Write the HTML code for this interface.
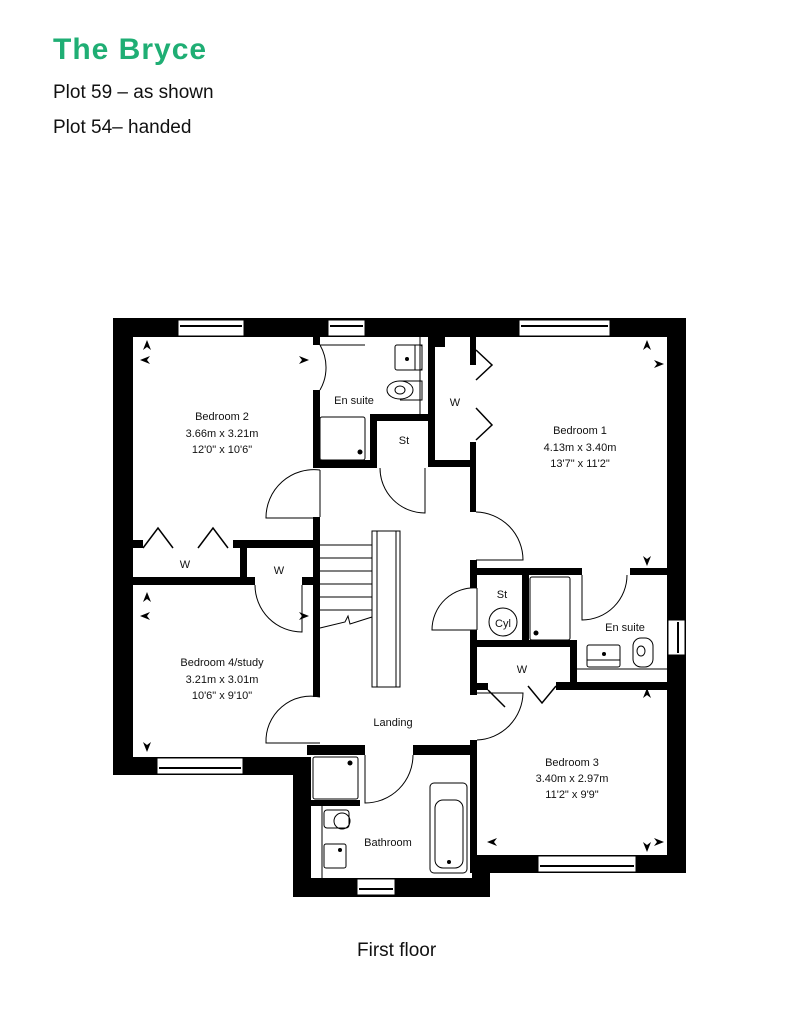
<!DOCTYPE html>
<html><head><meta charset="utf-8"><style>
html,body{margin:0;padding:0;background:#fff;}
body{width:800px;height:1036px;position:relative;overflow:hidden;font-family:"Liberation Sans",sans-serif;}
.t{position:absolute;left:53px;white-space:nowrap;color:#111;}
</style></head><body>
<div class="t" style="top:33px;font-size:30px;font-weight:bold;color:#1fae74;letter-spacing:1px;">The Bryce</div>
<div class="t" style="top:82px;font-size:19px;">Plot 59 – as shown</div>
<div class="t" style="top:117px;font-size:19px;">Plot 54– handed</div>
<div class="t" style="top:940px;left:357px;font-size:19px;">First floor</div>
<svg width="800" height="1036" style="position:absolute;left:0;top:0" xmlns="http://www.w3.org/2000/svg">
<g fill="#000">
<rect x="113" y="318" width="573" height="19"/>
<rect x="113" y="318" width="20" height="457"/>
<rect x="667" y="318" width="19" height="555"/>
<rect x="113" y="757" width="198" height="18"/>
<rect x="293" y="757" width="18" height="140"/>
<rect x="293" y="878" width="197" height="19"/>
<rect x="472" y="855" width="214" height="18"/>
<rect x="470" y="745" width="7" height="128"/>
<rect x="472" y="855" width="18" height="42"/>
<rect x="313" y="337" width="7" height="8"/>
<rect x="313" y="390" width="7" height="78"/>
<rect x="313" y="460" width="60" height="8"/>
<rect x="370" y="414" width="7" height="54"/>
<rect x="370" y="414" width="62" height="7"/>
<rect x="428" y="337" width="7" height="130"/>
<rect x="430" y="337" width="15" height="10"/>
<rect x="428" y="460" width="48" height="7"/>
<rect x="470" y="337" width="6" height="28"/>
<rect x="470" y="442" width="6" height="70"/>
<rect x="313" y="517" width="7" height="180"/>
<rect x="133" y="540" width="10" height="8"/>
<rect x="233" y="540" width="87" height="8"/>
<rect x="240" y="540" width="7" height="45"/>
<rect x="133" y="577" width="114" height="8"/>
<rect x="247" y="577" width="8" height="8"/>
<rect x="302" y="577" width="11" height="8"/>
<rect x="470" y="560" width="7" height="28"/>
<rect x="470" y="630" width="7" height="65"/>
<rect x="470" y="568" width="112" height="7"/>
<rect x="630" y="568" width="37" height="7"/>
<rect x="522" y="575" width="7" height="70"/>
<rect x="470" y="640" width="107" height="7"/>
<rect x="570" y="642" width="7" height="48"/>
<rect x="477" y="683" width="11" height="7"/>
<rect x="556" y="682" width="111" height="8"/>
<rect x="470" y="740" width="7" height="125"/>
<rect x="307" y="745" width="58" height="10"/>
<rect x="413" y="745" width="64" height="10"/>
<rect x="311" y="800" width="49" height="6"/>
</g>
<g fill="#fff" stroke="#000" stroke-width="1">
<rect x="178" y="320" width="66" height="16"/>
<rect x="328" y="320" width="37" height="16"/>
<rect x="519" y="320" width="91" height="16"/>
<rect x="157" y="758" width="86" height="16"/>
<rect x="357" y="879" width="38" height="16"/>
<rect x="538" y="856" width="98" height="16"/>
<rect x="668" y="620" width="17" height="35"/>
</g>
<g stroke="#000" stroke-width="2">
<line x1="180" y1="326" x2="242" y2="326"/><line x1="330" y1="326" x2="363" y2="326"/>
<line x1="521" y1="326" x2="608" y2="326"/><line x1="159" y1="768" x2="241" y2="768"/>
<line x1="359" y1="889" x2="393" y2="889"/><line x1="540" y1="866" x2="634" y2="866"/>
<line x1="678" y1="622" x2="678" y2="653"/>
</g>
<g fill="none" stroke="#000" stroke-width="1">
<path d="M320 345 A45 45 0 0 1 320 390 M320 345 L365 345"/>
<path d="M320 470 L320 517 M320 470 A48 48 0 0 0 266 518 L320 518"/>
<path d="M380 468 A45 45 0 0 0 425 513 L425 468"/>
<path d="M476 512 A48 48 0 0 1 523 560 L476 560"/>
<path d="M477 588 L477 630 M477 588 A42 42 0 0 0 432 630 L477 630"/>
<path d="M582 575 L582 620 A45 45 0 0 0 627 575"/>
<path d="M255 585 A47 47 0 0 0 302 632 L302 585"/>
<path d="M320 697 A45 45 0 0 0 266 743 L320 743"/>
<path d="M413 755 A48 48 0 0 1 365 803 L365 755"/>
<path d="M477 740 A48 48 0 0 0 523 693 L477 693"/>
<path d="M476 350 L492 365 L476 380 M476 408 L492 425 L476 440" stroke-width="1.5"/>
<path d="M143 548 L158 528 L173 548 M198 548 L213 528 L228 548" stroke-width="1.5"/>
<path d="M488 690 L505 707 M528 686 L542 703 L556 686" stroke-width="1.5"/>
<rect x="372" y="531" width="28" height="156"/>
<line x1="377" y1="531" x2="377" y2="687"/><line x1="396" y1="531" x2="396" y2="687"/>
<path d="M320 545 H372 M320 558 H372 M320 571 H372 M320 584 H372 M320 597 H372 M320 610 H372"/>
<path d="M320 628 L345 622 L348 616 L350 624 L372 617"/>
<rect x="395" y="345" width="27" height="25" rx="2"/>
<rect x="415" y="345" width="7" height="25"/>
<ellipse cx="400" cy="390" rx="13" ry="9"/><ellipse cx="400" cy="390" rx="5" ry="4"/>
<path d="M400 381 H422 V400 H400"/>
<rect x="320" y="417" width="45" height="43" rx="2"/>
<rect x="530" y="577" width="40" height="63" rx="2"/>
<circle cx="503" cy="622" r="14"/>
<rect x="587" y="645" width="33" height="22" rx="2"/><line x1="587" y1="660" x2="620" y2="660"/>
<rect x="633" y="638" width="20" height="29" rx="8"/><ellipse cx="641" cy="651" rx="4" ry="5"/>
<line x1="577" y1="669" x2="667" y2="669"/>
<rect x="313" y="757" width="45" height="42" rx="2"/>
<rect x="324" y="810" width="25" height="18" rx="3"/><ellipse cx="342" cy="821" rx="8" ry="8"/>
<rect x="324" y="844" width="22" height="24" rx="2"/>
<line x1="322" y1="806" x2="322" y2="878"/>
<rect x="430" y="783" width="37" height="90" rx="4"/>
<rect x="435" y="800" width="28" height="68" rx="8"/>
<line x1="420" y1="337" x2="420" y2="414"/>
</g>
<g fill="#000">
<circle cx="407" cy="359" r="2"/><circle cx="449" cy="862" r="2"/><circle cx="340" cy="850" r="2"/><circle cx="604" cy="654" r="2"/>
<circle cx="360" cy="452" r="2.5"/><circle cx="536" cy="633" r="2.5"/><circle cx="350" cy="763" r="2.5"/>
<path d="M147 340 l-4 10 l4 -3 l4 3 z M140 360 l10 -4 l-3 4 l3 4 z M309 360 l-10 -4 l3 4 l-3 4 z"/>
<path d="M147 592 l-4 10 l4 -3 l4 3 z M140 616 l10 -4 l-3 4 l3 4 z M309 616 l-10 -4 l3 4 l-3 4 z M147 752 l-4 -10 l4 3 l4 -3 z"/>
<path d="M647 340 l-4 10 l4 -3 l4 3 z M664 364 l-10 -4 l3 4 l-3 4 z M647 566 l-4 -10 l4 3 l4 -3 z"/>
<path d="M647 688 l-4 10 l4 -3 l4 3 z M487 842 l10 -4 l-3 4 l3 4 z M647 852 l-4 -10 l4 3 l4 -3 z M664 842 l-10 -4 l3 4 l-3 4 z"/>
</g>
<g font-family="Liberation Sans, sans-serif" font-size="11" fill="#111" text-anchor="middle">
<text x="222" y="420">Bedroom 2</text><text x="222" y="437">3.66m x 3.21m</text><text x="222" y="453">12'0" x 10'6"</text>
<text x="354" y="404">En suite</text><text x="404" y="444">St</text><text x="455" y="406">W</text>
<text x="580" y="434">Bedroom 1</text><text x="580" y="451">4.13m x 3.40m</text><text x="580" y="467">13'7" x 11'2"</text>
<text x="185" y="568">W</text><text x="279" y="574">W</text>
<text x="502" y="598">St</text><text x="503" y="627">Cyl</text>
<text x="625" y="631">En suite</text><text x="522" y="673">W</text>
<text x="222" y="666">Bedroom 4/study</text><text x="222" y="683">3.21m x 3.01m</text><text x="222" y="699">10'6" x 9'10"</text>
<text x="393" y="726">Landing</text>
<text x="388" y="846">Bathroom</text>
<text x="572" y="766">Bedroom 3</text><text x="572" y="782">3.40m x 2.97m</text><text x="572" y="798">11'2" x 9'9"</text>
</g>
</svg>
</body></html>
